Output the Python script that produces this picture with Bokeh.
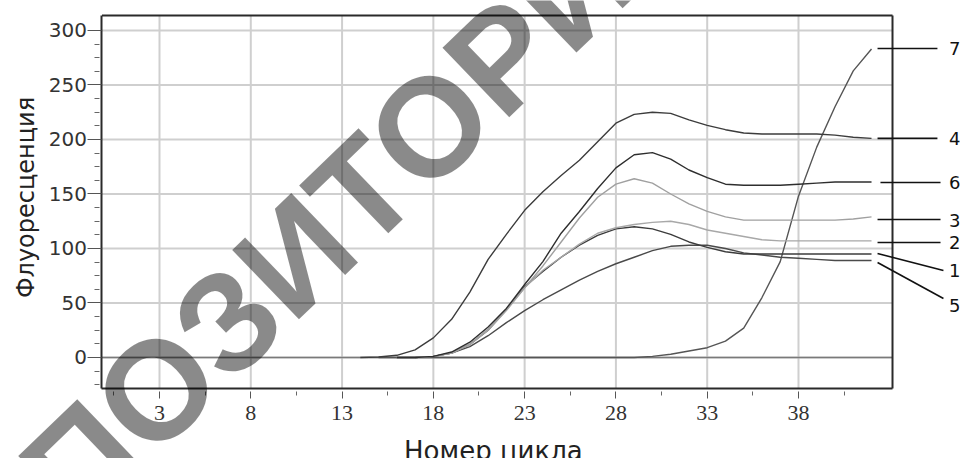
import math
from bokeh.plotting import figure
from bokeh.models import FixedTicker, Label, ColumnDataSource, Range1d
from bokeh.core.properties import value
from bokeh.embed import file_html
from bokeh.resources import INLINE

# ---------------- data ----------------
cycles_1 = list(range(16, 43))
fluor_1 = [0, 0, 1, 4, 12, 25, 44, 65, 79, 92, 103, 112, 118, 120, 118, 113,
           106, 101, 97, 95, 95, 95, 95, 95, 95, 95, 95]
cycles_2 = list(range(16, 43))
fluor_2 = [0, 0, 1, 4, 12, 25, 43, 64, 80, 92, 104, 114, 119, 122, 124, 125,
           122, 117, 114, 111, 108, 107, 107, 107, 107, 107, 107]
cycles_3 = list(range(16, 43))
fluor_3 = [0, 0, 1, 4, 12, 26, 44, 64, 84, 106, 128, 147, 159, 164, 160, 150,
           141, 134, 129, 126, 126, 126, 126, 126, 126, 127, 129]
cycles_4 = list(range(14, 43))
fluor_4 = [0, 0.5, 2, 7, 18, 35, 60, 90, 113, 135, 152, 167, 181, 198, 215, 223,
           225, 224, 218, 213, 209, 206, 205, 205, 205, 205, 204, 202, 201]
cycles_5 = list(range(17, 43))
fluor_5 = [0, 1, 4, 10, 20, 32, 43, 53, 62, 71, 79, 86, 92, 98, 102, 103, 103,
           100, 96, 94, 92, 91, 90, 89, 89, 89]
cycles_6 = list(range(16, 43))
fluor_6 = [0, 0, 1, 5, 14, 28, 45, 67, 88, 114, 134, 155, 174, 186, 188, 182,
           172, 165, 159, 158, 158, 158, 159, 160, 161, 161, 161]
cycles_7 = list(range(15, 43))
fluor_7 = [0, 0, 0, 0, 0, 0, 0, 0, 0, 0, 0, 0, 0, 0, 0, 1, 3, 6, 9, 15, 27, 55,
           88, 148, 193, 230, 263, 283]

series_labels = ["7", "4", "6", "3", "2", "1", "5"]

x_major_ticks = [3, 8, 13, 18, 23, 28, 33, 38]
x_minor_ticks = [0.5, 5.5, 10.5, 15.5, 20.5, 25.5, 30.5, 35.5, 40.5]
y_major_ticks = [0, 50, 100, 150, 200, 250, 300]
y_minor_ticks = [-25, -12.5, 12.5, 25, 37.5, 62.5, 75, 87.5, 112.5, 125, 137.5,
                 162.5, 175, 187.5, 212.5, 225, 237.5, 262.5, 275, 287.5]

x_title = "Номер цикла"
y_title = "Флуоресценция"
watermark_text = "РЕПОЗИТОРИЙ"

# ---------------- layout / style ----------------
# plot box (in data units) inside a canvas-wide frame
box_x0, box_x1 = -0.15, 43.15
box_y0, box_y1 = -28.4, 313.8
canvas_x = (-5.709, 46.874)
canvas_y = (-92.66, 327.52)

leader_x0 = [42.33, 42.33, 42.49, 42.33, 42.33, 42.33, 42.33]
leader_y0 = [283.5, 201, 160.5, 126.6, 105.5, 95.4, 87.2]
leader_x1 = [45.61, 45.61, 45.78, 45.78, 45.78, 45.94, 45.94]
leader_y1 = [283.5, 201, 160.5, 126.6, 105.5, 79.8, 54.1]
label_x = [46.25] * 7
label_y = [283.5, 201, 160.5, 125.7, 105.5, 79.8, 47.7]

p = figure(width=960, height=458, output_backend="svg", toolbar_location=None,
           x_range=Range1d(*canvas_x), y_range=Range1d(*canvas_y),
           min_border=0)
p.background_fill_color = "white"
p.border_fill_color = "white"
p.outline_line_color = None
p.xgrid.visible = False
p.ygrid.visible = False

p.xaxis.ticker = FixedTicker(ticks=x_major_ticks, minor_ticks=x_minor_ticks)
p.yaxis.ticker = FixedTicker(ticks=y_major_ticks, minor_ticks=y_minor_ticks)
p.xaxis.fixed_location = box_y0
p.yaxis.fixed_location = box_x0
p.xaxis.bounds = (box_x0, box_x1)
p.yaxis.bounds = (box_y0, box_y1)

for ax in (p.xaxis[0], p.yaxis[0]):
    ax.axis_line_color = "#2a2a2a"
    ax.axis_line_width = 2
    ax.major_tick_line_color = "#555555"
    ax.minor_tick_line_color = "#666666"
    ax.major_tick_line_width = 1
    ax.minor_tick_line_width = 1
    ax.major_label_text_color = "#333333"

p.xaxis.major_tick_in = -3
p.xaxis.major_tick_out = 10
p.xaxis.minor_tick_in = -3
p.xaxis.minor_tick_out = 7
p.xaxis.major_label_standoff = 8
p.xaxis.major_label_text_font = "Liberation Serif"
p.xaxis.major_label_text_font_size = "22px"

p.yaxis.major_tick_in = 0
p.yaxis.major_tick_out = 14
p.yaxis.minor_tick_in = -2
p.yaxis.minor_tick_out = 7
p.yaxis.major_label_standoff = 1
p.yaxis.major_label_text_font = "DejaVu Sans"
p.yaxis.major_label_text_font_size = "20px"

# grid lines at the major ticks, limited to the plot box
p.segment(x0=x_major_ticks, x1=x_major_ticks, y0=box_y0, y1=box_y1,
          line_color="#cfcfcf", line_width=2)
p.segment(x0=box_x0, x1=box_x1, y0=y_major_ticks, y1=y_major_ticks,
          line_color="#cfcfcf", line_width=2)
# zero line
p.segment(x0=[box_x0], x1=[box_x1], y0=[0], y1=[0],
          line_color="#7a7a7a", line_width=1.6)

series = [
    (cycles_7, fluor_7, "#555555"),
    (cycles_5, fluor_5, "#4a4a4a"),
    (cycles_1, fluor_1, "#3c3c3c"),
    (cycles_2, fluor_2, "#a8a8a8"),
    (cycles_3, fluor_3, "#a0a0a0"),
    (cycles_6, fluor_6, "#2e2e2e"),
    (cycles_4, fluor_4, "#3c3c3c"),
]
for xs, ys, col in series:
    p.line(xs, ys, line_color=col, line_width=1.4)

# top and right borders of the plot box
p.segment(x0=[box_x0, box_x1], x1=[box_x1, box_x1],
          y0=[box_y1, box_y0], y1=[box_y1, box_y1],
          line_color="#2a2a2a", line_width=2)

leaders = ColumnDataSource(dict(x0=leader_x0, y0=leader_y0,
                                x1=leader_x1, y1=leader_y1))
p.segment(x0="x0", y0="y0", x1="x1", y1="y1", source=leaders,
          line_color="#111111", line_width=1.6)

labels = ColumnDataSource(dict(x=label_x, y=label_y, t=series_labels))
p.text(x="x", y="y", text="t", source=labels,
       text_font=value("DejaVu Sans"), text_font_size="18px",
       text_color="#111111", text_baseline="middle", text_align="left")

p.add_layout(Label(x=21.29, y=-86.0, text=x_title, text_align="center",
                   text_baseline="alphabetic", text_font="DejaVu Sans",
                   text_font_size="26px", text_color="#222222"))
p.add_layout(Label(x=-4.285, y=146.8, text=y_title, text_align="center",
                   text_baseline="middle", text_font="DejaVu Sans",
                   text_font_size="24px", text_color="#222222",
                   angle=math.pi / 2))

p.add_layout(Label(x=10.45, y=93.6, text=watermark_text, text_align="center",
                   text_baseline="middle", text_font="Liberation Sans",
                   text_font_style="bold", text_font_size="140px",
                   text_color="black", text_alpha=0.46,
                   angle=math.radians(43.9)))

open("out.html", "w").write(file_html(p, INLINE))
